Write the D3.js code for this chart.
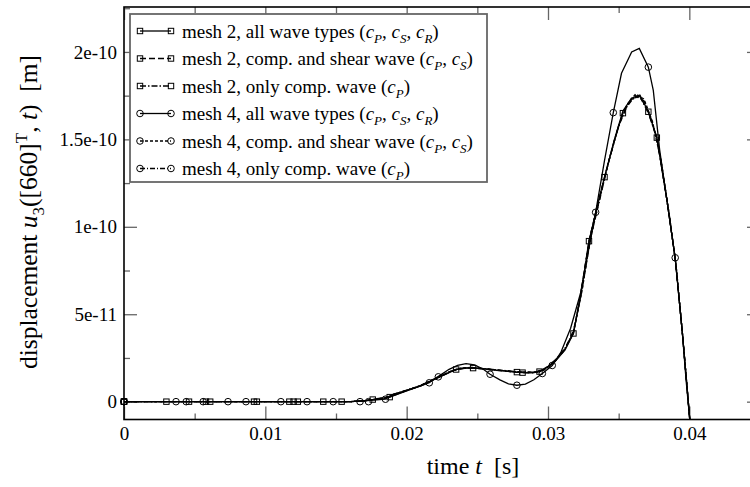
<!DOCTYPE html>
<html>
<head>
<meta charset="utf-8">
<script src="https://cdn.jsdelivr.net/npm/d3@7"></script>
<style>
  body { margin: 0; background: #fff; }
  svg text { font-family: "Liberation Serif", "Times New Roman", serif; white-space: pre; }
</style>
</head>
<body>
<div id="chart"></div>
<script>
// tick values / labels
var xTicks = [0, 0.01, 0.02, 0.03, 0.04];
var xTickLabels = ["0", "0.01", "0.02", "0.03", "0.04"];
var xMinor = [0.005, 0.015, 0.025, 0.035];
var yTicks = [0, 5e-11, 1e-10, 1.5e-10, 2e-10];
var yTickLabels = ["0", "5e-11", "1e-10", "1.5e-10", "2e-10"];
var yMinor = [2.5e-11, 7.5e-11, 1.25e-10, 1.75e-10, 2.25e-10];

// curves, [t, u3]
var mesh2All = [[0,0],[0.016,0],[0.017,0.05e-11],[0.0176,0.12e-11],[0.0188,0.26e-11],[0.020,0.62e-11],[0.021,0.9e-11],[0.022,1.28e-11],[0.023,1.66e-11],[0.0235,1.84e-11],[0.0241,1.92e-11],[0.0247,1.93e-11],[0.0256,1.86e-11],[0.0266,1.78e-11],[0.0278,1.69e-11],[0.0282,1.66e-11],[0.0288,1.65e-11],[0.0294,1.71e-11],[0.0300,1.98e-11],[0.0306,2.4e-11],[0.0312,2.95e-11],[0.0318,3.9e-11],[0.0323,6.0e-11],[0.0329,9.18e-11],[0.0334,1.09e-10],[0.0340,1.286e-10],[0.0347,1.5e-10],[0.0353,1.662e-10],[0.0359,1.735e-10],[0.0365,1.754e-10],[0.0371,1.658e-10],[0.0377,1.512e-10],[0.0384,1.16e-10],[0.0390,8.2e-11],[0.0395,4.0e-11],[0.0398,1.2e-11],[0.04005,-1.2e-11]];
var mesh2Shear = [[0,0],[0.016,0],[0.017,0.05e-11],[0.0176,0.12e-11],[0.0188,0.27e-11],[0.020,0.63e-11],[0.021,0.92e-11],[0.022,1.3e-11],[0.023,1.67e-11],[0.0235,1.83e-11],[0.0241,1.91e-11],[0.0247,1.92e-11],[0.0256,1.85e-11],[0.0266,1.77e-11],[0.0278,1.68e-11],[0.0288,1.64e-11],[0.0294,1.72e-11],[0.0300,2.0e-11],[0.0306,2.42e-11],[0.0312,3.0e-11],[0.0318,3.95e-11],[0.0323,6.1e-11],[0.0329,9.2e-11],[0.0334,1.09e-10],[0.0340,1.284e-10],[0.0347,1.49e-10],[0.0353,1.655e-10],[0.0359,1.73e-10],[0.0365,1.748e-10],[0.0371,1.655e-10],[0.0377,1.51e-10],[0.0384,1.16e-10],[0.0390,8.2e-11],[0.0395,4.0e-11],[0.0398,1.2e-11],[0.04005,-1.2e-11]];
var mesh2Comp = [[0,0],[0.016,0],[0.017,0.05e-11],[0.0176,0.13e-11],[0.0188,0.28e-11],[0.020,0.64e-11],[0.021,0.93e-11],[0.022,1.3e-11],[0.023,1.68e-11],[0.0235,1.84e-11],[0.0241,1.93e-11],[0.0247,1.94e-11],[0.0256,1.87e-11],[0.0266,1.79e-11],[0.0278,1.69e-11],[0.0288,1.66e-11],[0.0294,1.73e-11],[0.0300,2.02e-11],[0.0306,2.45e-11],[0.0312,3.05e-11],[0.0318,3.9e-11],[0.0323,6.05e-11],[0.0329,9.15e-11],[0.0334,1.088e-10],[0.0340,1.28e-10],[0.0347,1.495e-10],[0.0353,1.65e-10],[0.0359,1.728e-10],[0.0365,1.745e-10],[0.0371,1.65e-10],[0.0377,1.508e-10],[0.0384,1.16e-10],[0.0390,8.2e-11],[0.0395,4.0e-11],[0.0398,1.2e-11],[0.04005,-1.2e-11]];
var mesh4All = [[0,0],[0.016,0],[0.017,0.05e-11],[0.0185,0.14e-11],[0.019,0.4e-11],[0.020,0.65e-11],[0.021,0.9e-11],[0.0216,1.08e-11],[0.0222,1.42e-11],[0.023,1.85e-11],[0.0236,2.08e-11],[0.0242,2.17e-11],[0.0248,2.1e-11],[0.0254,1.87e-11],[0.0259,1.57e-11],[0.0266,1.25e-11],[0.0272,1.02e-11],[0.0278,0.94e-11],[0.0284,1.0e-11],[0.029,1.25e-11],[0.0296,1.61e-11],[0.0303,2.07e-11],[0.0309,2.8e-11],[0.0316,4.2e-11],[0.0323,6.2e-11],[0.0329,8.8e-11],[0.03337,1.083e-10],[0.034,1.38e-10],[0.03462,1.653e-10],[0.0352,1.878e-10],[0.03592,2.0e-10],[0.03646,2.02e-10],[0.0371,1.913e-10],[0.03745,1.78e-10],[0.0379,1.44e-10],[0.0384,1.16e-10],[0.0390,8.23e-11],[0.0395,4.0e-11],[0.03977,1.23e-11],[0.04005,-1.2e-11]];
var mesh4Shear = [[0,0],[0.016,0],[0.017,0.05e-11],[0.0185,0.2e-11],[0.019,0.4e-11],[0.020,0.65e-11],[0.021,0.92e-11],[0.02224,1.42e-11],[0.023,1.7e-11],[0.0238,1.9e-11],[0.0246,1.95e-11],[0.0256,1.88e-11],[0.0268,1.78e-11],[0.028,1.7e-11],[0.029,1.68e-11],[0.0298,1.85e-11],[0.0305,2.3e-11],[0.0312,3.0e-11],[0.0318,4.0e-11],[0.0324,6.3e-11],[0.033,9.3e-11],[0.0336,1.14e-10],[0.0343,1.38e-10],[0.035,1.58e-10],[0.0356,1.7e-10],[0.0362,1.76e-10],[0.0368,1.73e-10],[0.0374,1.6e-10],[0.038,1.38e-10],[0.0386,1.06e-10],[0.0391,7.5e-11],[0.0395,4.0e-11],[0.0398,1.2e-11],[0.04005,-1.2e-11]];
var mesh4Comp = [[0,0],[0.016,0],[0.017,0.05e-11],[0.0185,0.2e-11],[0.019,0.41e-11],[0.020,0.66e-11],[0.021,0.93e-11],[0.022,1.32e-11],[0.023,1.71e-11],[0.0238,1.91e-11],[0.0246,1.96e-11],[0.0256,1.89e-11],[0.0268,1.79e-11],[0.028,1.71e-11],[0.029,1.69e-11],[0.0298,1.86e-11],[0.0305,2.32e-11],[0.0312,3.02e-11],[0.0318,4.05e-11],[0.0324,6.35e-11],[0.033,9.3e-11],[0.0336,1.135e-10],[0.0343,1.375e-10],[0.035,1.575e-10],[0.0356,1.69e-10],[0.0362,1.75e-10],[0.0368,1.72e-10],[0.0374,1.595e-10],[0.038,1.375e-10],[0.0386,1.06e-10],[0.0391,7.5e-11],[0.0395,4.0e-11],[0.0398,1.2e-11],[0.04005,-1.2e-11]];

// symbol positions, [t, u3]
var mesh2AllSym = [[0,0],[0.003,0],[0.0061,0],[0.0094,0],[0.0123,0],[0.0154,0],[0.0188,0.26e-11],[0.0235,1.84e-11],[0.0282,1.66e-11],[0.0329,9.18e-11],[0.0371,1.658e-10]];
var mesh2ShearSym = [[0,0],[0.0046,0],[0.0092,0],[0.012,0],[0.0141,0],[0.0176,0.12e-11],[0.0247,1.92e-11],[0.0294,1.72e-11],[0.0340,1.284e-10],[0.0377,1.51e-10]];
var mesh2CompSym = [[0,0],[0.0058,0],[0.0117,0],[0.0278,1.69e-11],[0.0318,3.9e-11],[0.0353,1.65e-10]];
var mesh4AllSym = [[0,0],[0.00368,0],[0.00736,0],[0.0111,0],[0.0148,0],[0.0185,0.14e-11],[0.0216,1.08e-11],[0.0259,1.57e-11],[0.0278,0.94e-11],[0.0296,1.61e-11],[0.0303,2.07e-11],[0.03337,1.083e-10],[0.03462,1.653e-10],[0.0371,1.913e-10],[0.0390,8.23e-11]];
var mesh4ShearSym = [[0,0],[0.0044,0],[0.00863,0],[0.01295,0],[0.0167,0],[0.02224,1.42e-11]];
var mesh4CompSym = [[0,0],[0.0056,0],[0.0173,0]];

var seriesNames = [
  ["mesh 2, all wave types (", "PSR"],
  ["mesh 2, comp. and shear wave (", "PS"],
  ["mesh 2, only comp. wave (", "P"],
  ["mesh 4, all wave types (", "PSR"],
  ["mesh 4, comp. and shear wave (", "PS"],
  ["mesh 4, only comp. wave (", "P"]
];

var series = [
  { line: mesh2All, sym: mesh2AllSym, shape: "sq", dash: null },
  { line: mesh2Shear, sym: mesh2ShearSym, shape: "sq", dash: "6,3" },
  { line: mesh2Comp, sym: mesh2CompSym, shape: "sq", dash: "6,2,1.5,2" },
  { line: mesh4All, sym: mesh4AllSym, shape: "ci", dash: null },
  { line: mesh4Shear, sym: mesh4ShearSym, shape: "ci", dash: "3,2" },
  { line: mesh4Comp, sym: mesh4CompSym, shape: "ci", dash: "5,2,1,2" }
];

var W = 750, H = 487;
// plot frame runs a bit past the right edge of the picture
var margin = { top: 7, right: -10, bottom: 67.5, left: 124 },
  width = W - margin.left - margin.right,
  height = H - margin.top - margin.bottom;

var svg = d3.select("#chart").append("svg")
  .attr("width", W)
  .attr("height", H);

var g = svg.append("g")
  .attr("transform", "translate(" + margin.left + "," + margin.top + ")");

var x = d3.scaleLinear().domain([0, 0.045]).range([0, width]);
var y = d3.scaleLinear().domain([-1.02e-11, 2.257e-10]).range([height, 0]);

g.append("clipPath").attr("id", "clip")
  .append("rect").attr("width", width).attr("height", height);

// ticks, all pointing inward
var tickCol = "#666";
function axisStyle(sel) {
  sel.attr("font-family", "Liberation Serif").attr("font-size", 19);
  sel.select(".domain").remove();
  sel.selectAll(".tick line").attr("stroke", tickCol).attr("stroke-width", 1.3);
  sel.selectAll("text").attr("fill", "#000");
}

g.append("g").attr("transform", "translate(0," + height + ")")
  .call(d3.axisBottom(x).tickValues(xTicks).tickSize(-13).tickPadding(7)
    .tickFormat(function (d, i) { return xTickLabels[i]; }))
  .call(axisStyle);
g.append("g").attr("transform", "translate(0," + height + ")")
  .call(d3.axisBottom(x).tickValues(xMinor).tickSize(-6).tickFormat(""))
  .call(axisStyle);
g.append("g")
  .call(d3.axisTop(x).tickValues(xTicks).tickSize(-13).tickFormat(""))
  .call(axisStyle);
g.append("g")
  .call(d3.axisTop(x).tickValues(xMinor).tickSize(-6).tickFormat(""))
  .call(axisStyle);

g.append("g")
  .call(d3.axisLeft(y).tickValues(yTicks).tickSize(-13).tickPadding(7)
    .tickFormat(function (d, i) { return yTickLabels[i]; }))
  .call(axisStyle);
g.append("g")
  .call(d3.axisLeft(y).tickValues(yMinor).tickSize(-6).tickFormat(""))
  .call(axisStyle);
g.append("g").attr("transform", "translate(" + width + ",0)")
  .call(d3.axisRight(y).tickValues(yTicks).tickSize(-13).tickFormat(""))
  .call(axisStyle);
g.append("g").attr("transform", "translate(" + width + ",0)")
  .call(d3.axisRight(y).tickValues(yMinor).tickSize(-6).tickFormat(""))
  .call(axisStyle);

// curves
var valueline = d3.line()
  .x(function (d) { return x(d[0]); })
  .y(function (d) { return y(d[1]); });

var plot = g.append("g").attr("clip-path", "url(#clip)");

function drawSym(sel, shape, cx, cy) {
  if (shape === "sq") {
    sel.append("rect").attr("x", cx - 2.7).attr("y", cy - 2.7)
      .attr("width", 5.4).attr("height", 5.4)
      .attr("fill", "none").attr("stroke", "#000").attr("stroke-width", 1);
  } else {
    sel.append("circle").attr("cx", cx).attr("cy", cy).attr("r", 3.3)
      .attr("fill", "none").attr("stroke", "#000").attr("stroke-width", 1);
  }
}

series.forEach(function (s) {
  plot.append("path")
    .attr("d", valueline(s.line))
    .attr("fill", "none")
    .attr("stroke", "#000")
    .attr("stroke-width", 1.3)
    .attr("stroke-dasharray", s.dash);
});
series.forEach(function (s) {
  var sg = g.append("g");
  s.sym.forEach(function (p) { drawSym(sg, s.shape, x(p[0]), y(p[1])); });
});

// frame
g.append("rect")
  .attr("width", width).attr("height", height)
  .attr("fill", "none").attr("stroke", "#000").attr("stroke-width", 1.6);

// rich text helper
function rich(textSel, parts, fs) {
  var shift = 0;
  parts.forEach(function (p) {
    var want = p.sub ? 0.28 * fs : (p.sup ? -0.4 * fs : 0);
    var ts = textSel.append("tspan").text(p.t).attr("dy", want - shift);
    shift = want;
    if (p.i) ts.style("font-style", "italic");
    if (p.sub || p.sup) ts.attr("font-size", Math.round(fs * 0.68));
  });
}

// legend
var lg = svg.append("g");
lg.append("rect")
  .attr("x", 130).attr("y", 14).attr("width", 357).attr("height", 168)
  .attr("fill", "#fff").attr("stroke", "#666").attr("stroke-width", 1.8);

seriesNames.forEach(function (n, i) {
  var s = series[i];
  var ry = 31 + i * 27.5;
  lg.append("line").attr("x1", 140).attr("x2", 171).attr("y1", ry).attr("y2", ry)
    .attr("stroke", "#000").attr("stroke-width", 1.3).attr("stroke-dasharray", s.dash);
  drawSym(lg, s.shape, 140, ry);
  drawSym(lg, s.shape, 171, ry);
  var parts = [{ t: n[0] }];
  n[1].split("").forEach(function (c, k) {
    if (k > 0) parts.push({ t: ", " });
    parts.push({ t: "c", i: true });
    parts.push({ t: c, i: true, sub: true });
  });
  parts.push({ t: ")" });
  var t = lg.append("text").attr("x", 182).attr("y", ry + 6.5).attr("font-size", 19);
  rich(t, parts, 19);
});

// axis titles
var xt = svg.append("text")
  .attr("x", 473).attr("y", 474)
  .attr("text-anchor", "middle").attr("font-size", 24);
rich(xt, [{ t: "time " }, { t: "t", i: true }, { t: "  [s]" }], 24);

var yt = svg.append("text")
  .attr("transform", "translate(37,212) rotate(-90)")
  .attr("text-anchor", "middle").attr("font-size", 25.5);
rich(yt, [{ t: "displacement " }, { t: "u", i: true }, { t: "3", sub: true },
  { t: "([660]" }, { t: "T", sup: true }, { t: ", " }, { t: "t", i: true }, { t: ")  [m]" }], 25.5);
</script>
</body>
</html>
